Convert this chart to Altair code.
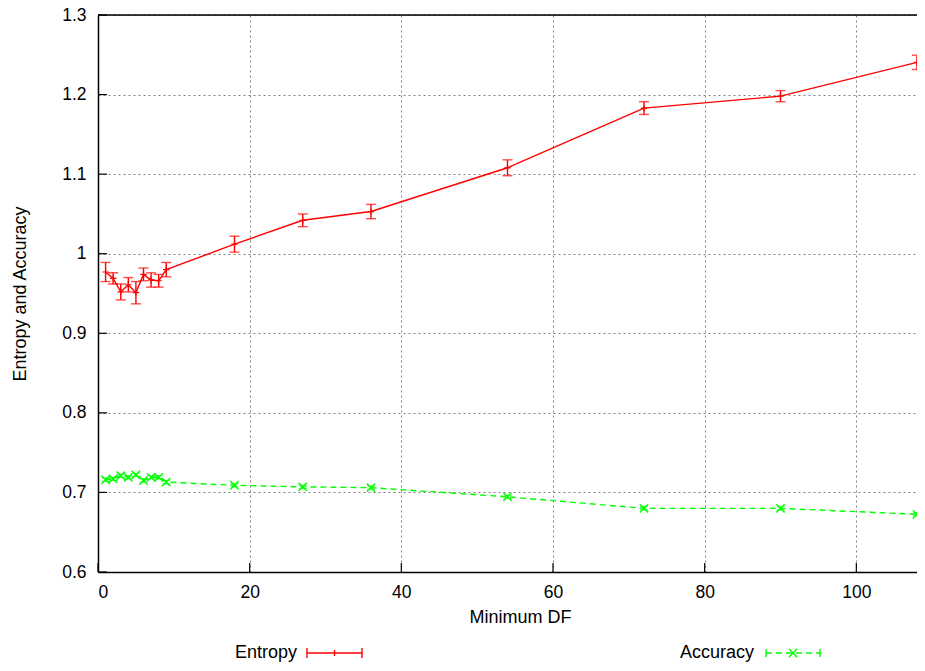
import altair as alt
import pandas as pd

# ---- data ----
min_df = [1, 2, 3, 4, 5, 6, 7, 8, 9, 18, 27, 36, 54, 72, 90, 108]
entropy = [0.977, 0.969, 0.952, 0.961, 0.951, 0.974, 0.967, 0.966, 0.980,
           1.012, 1.042, 1.053, 1.108, 1.183, 1.198, 1.2405]
entropy_err = [0.012, 0.007, 0.010, 0.009, 0.014, 0.008, 0.009, 0.008, 0.009,
               0.010, 0.008, 0.009, 0.010, 0.008, 0.007, 0.009]
accuracy = [0.716, 0.717, 0.721, 0.719, 0.722, 0.715, 0.719, 0.719, 0.713,
            0.709, 0.707, 0.706, 0.6945, 0.680, 0.680, 0.6725]
accuracy_err = [0.002, 0.002, 0.002, 0.002, 0.002, 0.002, 0.002, 0.002, 0.002,
                0.002, 0.002, 0.002, 0.002, 0.002, 0.002, 0.002]
x_ticks = [0, 20, 40, 60, 80, 100]
y_ticks = [0.6, 0.7, 0.8, 0.9, 1.0, 1.1, 1.2, 1.3]
series_names = ["Entropy", "Accuracy"]

W, H = 819, 557
RED = "#ff0000"
GREEN = "#00ff00"
FONT = "Liberation Sans"
FS = 18
LFS = 17.5

df = pd.DataFrame({
    "x": min_df,
    "e": entropy,
    "e_lo": [v - d for v, d in zip(entropy, entropy_err)],
    "e_hi": [v + d for v, d in zip(entropy, entropy_err)],
    "a": accuracy,
    "a_lo": [v - d for v, d in zip(accuracy, accuracy_err)],
    "a_hi": [v + d for v, d in zip(accuracy, accuracy_err)],
})

xs = alt.Scale(domain=[0, 108], nice=False, zero=False)
ys = alt.Scale(domain=[0.6, 1.3], nice=False, zero=False)

x_axis = alt.Axis(values=x_ticks, title="Minimum DF", grid=True, gridDash=[2, 3],
                  gridColor="#808080", gridWidth=1, domainColor="black", domainWidth=1.5,
                  ticks=False, labelPadding=11, labelFontSize=LFS, labelFont=FONT,
                  labelColor="black", titleFont=FONT, titleFontSize=FS,
                  titleFontWeight="normal", titleColor="black", titleY=45,
                  titleX=422, titleBaseline="middle")
y_axis = alt.Axis(values=y_ticks, title="Entropy and Accuracy", format="~g", grid=True,
                  gridDash=[2, 3], gridColor="#808080", gridWidth=1, domainColor="black",
                  domainWidth=1.5, ticks=False, labelPadding=12, labelFontSize=LFS,
                  labelFont=FONT, labelColor="black", titleFont=FONT, titleFontSize=FS,
                  titleFontWeight="normal", titleColor="black", titleX=-78,
                  titleY=H / 2, titleAngle=-90, titleBaseline="middle")

base = alt.Chart(df)
X = alt.X("x:Q", scale=xs, axis=x_axis)

plus_shape = "M-1,0L1,0M0,-1L0,1"
x_shape = "M-1,-1L1,1M-1,1L1,-1"

e_line = base.mark_line(color=RED, strokeWidth=1.4).encode(
    x=X, y=alt.Y("e:Q", scale=ys, axis=y_axis))
e_bar = base.mark_rule(color=RED, strokeWidth=1.4).encode(
    x=alt.X("x:Q", scale=xs), y=alt.Y("e_lo:Q", scale=ys), y2="e_hi:Q")
e_cap_lo = base.mark_tick(color=RED, orient="horizontal", size=10, thickness=1.4).encode(
    x=alt.X("x:Q", scale=xs), y=alt.Y("e_lo:Q", scale=ys))
e_cap_hi = base.mark_tick(color=RED, orient="horizontal", size=10, thickness=1.4).encode(
    x=alt.X("x:Q", scale=xs), y=alt.Y("e_hi:Q", scale=ys))
e_pt = base.mark_point(shape=plus_shape, color=RED, filled=False, size=40,
                       strokeWidth=1.2, opacity=1).encode(
    x=alt.X("x:Q", scale=xs), y=alt.Y("e:Q", scale=ys))

a_line = base.mark_line(color=GREEN, strokeWidth=1.4, strokeDash=[6, 4]).encode(
    x=alt.X("x:Q", scale=xs), y=alt.Y("a:Q", scale=ys))
a_bar = base.mark_rule(color=GREEN, strokeWidth=1.2).encode(
    x=alt.X("x:Q", scale=xs), y=alt.Y("a_lo:Q", scale=ys), y2="a_hi:Q")
a_cap_lo = base.mark_tick(color=GREEN, orient="horizontal", size=8, thickness=1.2).encode(
    x=alt.X("x:Q", scale=xs), y=alt.Y("a_lo:Q", scale=ys))
a_cap_hi = base.mark_tick(color=GREEN, orient="horizontal", size=8, thickness=1.2).encode(
    x=alt.X("x:Q", scale=xs), y=alt.Y("a_hi:Q", scale=ys))
a_pt = base.mark_point(shape=x_shape, color=GREEN, filled=False, size=70,
                       strokeWidth=1.4, opacity=1).encode(
    x=alt.X("x:Q", scale=xs), y=alt.Y("a:Q", scale=ys))

# inward ticks and top border
xt = alt.Chart(pd.DataFrame({"t": x_ticks})).mark_rule(color="black", strokeWidth=1.2).encode(
    x=alt.X("t:Q", scale=xs), y=alt.value(H), y2=alt.value(H - 9))
yt = alt.Chart(pd.DataFrame({"t": y_ticks})).mark_rule(color="black", strokeWidth=1.2).encode(
    y=alt.Y("t:Q", scale=ys), x=alt.value(0), x2=alt.value(9))
top = alt.Chart(pd.DataFrame({"n": [0]})).mark_rule(color="black", strokeWidth=1.5).encode(
    x=alt.value(0), x2=alt.value(W), y=alt.value(0))

# key below the plot
LY = 638
one = pd.DataFrame({"n": [0]})


def key_text(label, xr):
    return alt.Chart(one).mark_text(text=label, align="right", baseline="middle",
                                    font=FONT, fontSize=FS, color="black").encode(
        x=alt.value(xr), y=alt.value(LY))


def hrule(x1, x2, color, dash=None):
    kw = dict(color=color, strokeWidth=1.4)
    if dash:
        kw["strokeDash"] = dash
    return alt.Chart(one).mark_rule(**kw).encode(
        x=alt.value(x1), x2=alt.value(x2), y=alt.value(LY))


def vtick(x, color, half=5):
    return alt.Chart(one).mark_rule(color=color, strokeWidth=1.4).encode(
        x=alt.value(x), y=alt.value(LY - half), y2=alt.value(LY + half))


key = [
    key_text(series_names[0], 199),
    hrule(209, 264, RED), vtick(209, RED), vtick(264, RED), vtick(236.5, RED, 3),
    key_text(series_names[1], 656),
    hrule(668, 722, GREEN, [6, 4]), vtick(668, GREEN, 4), vtick(722, GREEN, 4),
    alt.Chart(one).mark_point(shape=x_shape, color=GREEN, filled=False, size=70,
                              strokeWidth=1.4, opacity=1).encode(
        x=alt.value(695), y=alt.value(LY)),
]

chart = alt.layer(
    e_line, e_bar, e_cap_lo, e_cap_hi, e_pt,
    a_line, a_bar, a_cap_lo, a_cap_hi, a_pt,
    xt, yt, top, *key
).properties(
    width=W, height=H,
    autosize=alt.AutoSizeParams(type="none"),
    padding={"left": 90, "top": 7, "right": 0, "bottom": 91},
).configure_view(stroke=None).configure(background="white")

chart.save("out.html", embed_options={"renderer": "svg", "actions": False})
